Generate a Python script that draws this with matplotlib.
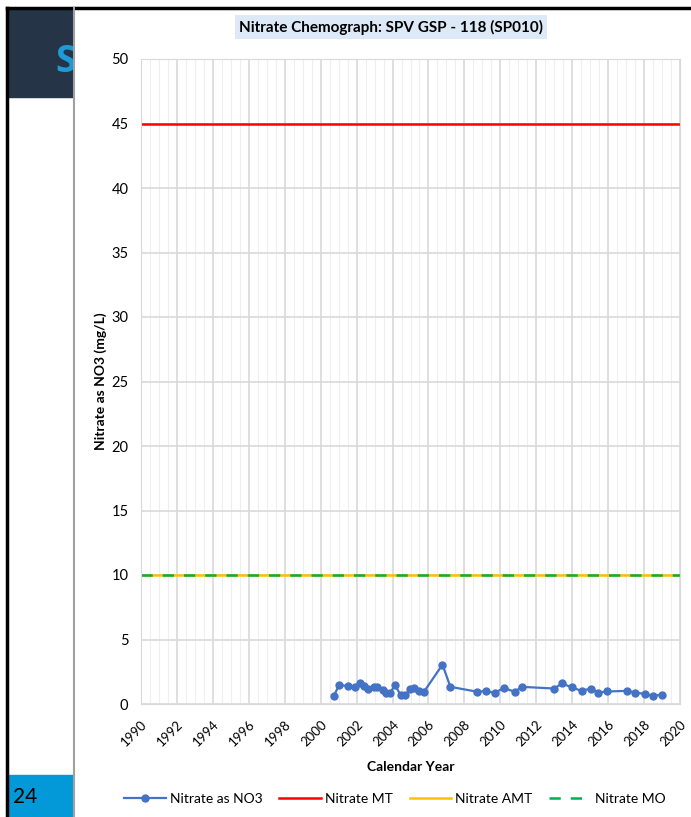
#!/usr/bin/env python3

import matplotlib
matplotlib.use("Agg")
import matplotlib.pyplot as plt
from matplotlib.patches import Rectangle
from matplotlib.lines import Line2D
import numpy as np

plt.rcParams['font.family'] = ['Lato', 'DejaVu Sans']

# sample dates (decimal year) and nitrate as NO3 (mg/L)
years = [2000.74, 2001.03, 2001.53, 2001.92, 2002.18, 2002.40, 2002.64, 2002.96,
         2003.16, 2003.47, 2003.66, 2003.88, 2004.14, 2004.45, 2004.72, 2004.96,
         2005.20, 2005.48, 2005.74, 2006.78, 2007.22, 2008.72, 2009.18, 2009.68,
         2010.20, 2010.80, 2011.19, 2012.99, 2013.44, 2013.99, 2014.52, 2015.03,
         2015.46, 2015.96, 2017.07, 2017.50, 2018.05, 2018.52, 2018.98]
nitrate = [0.65, 1.48, 1.38, 1.30, 1.60, 1.42, 1.13, 1.35,
           1.35, 1.06, 0.88, 0.89, 1.48, 0.68, 0.68, 1.13,
           1.23, 0.98, 0.93, 3.05, 1.33, 0.95, 1.01, 0.86,
           1.25, 0.94, 1.33, 1.20, 1.59, 1.28, 1.02, 1.20,
           0.89, 0.97, 1.02, 0.89, 0.78, 0.62, 0.73]

mt = 45
amt = 10
mo = 10
xticks = list(range(1990, 2021, 2))

fig = plt.figure(figsize=(6.91, 8.17), dpi=100)

# slide frame around the chart
fig.patches.append(Rectangle((8/691, 1-97/817), 65/691, 89/817,
                             transform=fig.transFigure, color='#253446', zorder=0))
fig.patches.append(Rectangle((8/691, 0), 65/691, 42/817,
                             transform=fig.transFigure, color='#0399d8', zorder=0))
fig.lines.append(Line2D([7/691, 1], [1-8/817, 1-8/817], transform=fig.transFigure,
                        color='black', lw=2.5))
fig.lines.append(Line2D([7/691, 7/691], [0, 1-8/817], transform=fig.transFigure,
                        color='black', lw=2.5))
fig.lines.append(Line2D([74/691, 74/691], [0, 1-8/817], transform=fig.transFigure,
                        color='#a0a0a0', lw=1.5))
s = fig.text(55/691, 1-62/817, 'S', fontsize=27, fontweight='bold', color='#1e9bd7',
             va='center', ha='left', family=['Open Sans', 'DejaVu Sans'])
s.set_clip_path(Rectangle((8, 817-97), 65, 89))
s.set_clip_on(True)
fig.text(13/691, 1-797/817, '24', fontsize=15, color='black', va='center', ha='left')

ax = fig.add_axes([141/691, 1-704/817, 539/691, 645/817])

ax.plot(years, nitrate, '-o', color='#4472c4', lw=1.6, ms=5, label='Nitrate as NO3',
        zorder=5)
ax.axhline(mt, color='#ff0000', lw=1.8, label='Nitrate MT')
ax.axhline(amt, color='#ffc000', lw=1.8, label='Nitrate AMT')
ax.axhline(mo, color='#00b050', lw=1.8, ls=(0, (4.5, 4)), label='Nitrate MO')

ax.set_xlim(1990, 2020)
ax.set_ylim(0, 50)
ax.set_xticks(xticks)
ax.set_xticks(np.arange(1990, 2020.01, 0.5), minor=True)
ax.set_yticks(range(0, 51, 5))
ax.tick_params(axis='x', labelrotation=45, length=0, labelsize=9.5, pad=10)
ax.tick_params(axis='y', length=0, labelsize=10.5, pad=9)
ax.tick_params(which='minor', length=0)
for lab in ax.get_xticklabels():
    lab.set_ha('right')
    lab.set_rotation_mode('anchor')
ax.grid(which='major', color='#d9d9d9', lw=1.2)
ax.grid(which='minor', axis='x', color='#efefef', lw=0.8)
ax.set_axisbelow(True)
for sp in ax.spines.values():
    sp.set_color('#d9d9d9')

ax.set_xlabel('Calendar Year', fontweight='bold', fontsize=10, labelpad=9)
ax.set_ylabel('Nitrate as NO3 (mg/L)', fontweight='bold', fontsize=10, labelpad=3)
fig.text(391/691, 1-27/817, 'Nitrate Chemograph: SPV GSP - 118 (SP010)',
         fontsize=11, fontweight='bold', ha='center', va='center',
         bbox=dict(facecolor='#dde9f6', edgecolor='none', pad=3))

fig.legend(loc='center', bbox_to_anchor=(395/691, 1-799/817), ncol=4, frameon=False,
           fontsize=10, handlelength=3, columnspacing=1.2, handletextpad=0.3)

fig.savefig('out.png', dpi=100)
